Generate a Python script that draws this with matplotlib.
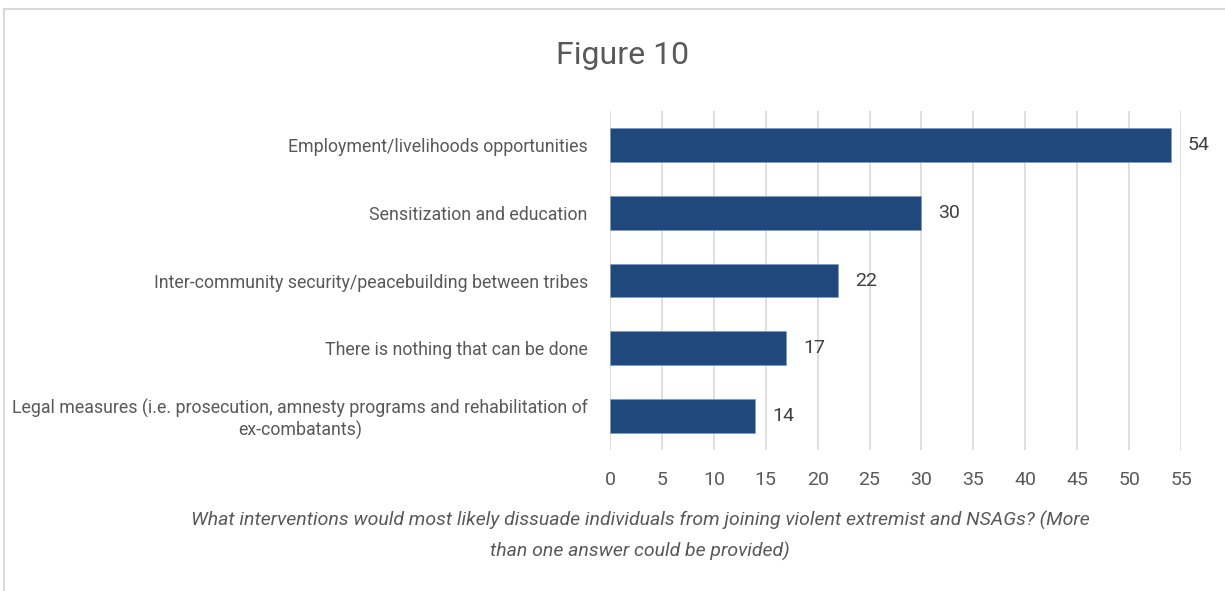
import matplotlib
matplotlib.use("Agg")
import matplotlib.pyplot as plt

# survey answers, top to bottom
categories = [
    "Employment/livelihoods opportunities",
    "Sensitization and education",
    "Inter-community security/peacebuilding between tribes",
    "There is nothing that can be done",
    "Legal measures (i.e. prosecution, amnesty programs and rehabilitation of\nex-combatants)",
]
counts = [54, 30, 22, 17, 14]
xticks = list(range(0, 60, 5))

title = "Figure 10"
caption = ("What interventions would most likely dissuade individuals from joining violent extremist and NSAGs? (More\n"
           "than one answer could be provided)")

plt.rcParams["font.family"] = ["Roboto", "DejaVu Sans"]

bar_color = "#1F497D"
text_color = "#595959"

fig = plt.figure(figsize=(12.25, 5.91), dpi=100)
ax = fig.add_axes([610 / 1225, 1 - 450 / 591, (1181 - 610) / 1225, 339 / 591])

y = list(range(len(categories)))[::-1]
ax.barh(y, counts, height=0.5, color=bar_color, edgecolor="#7F9CC4", linewidth=0.6, zorder=3)
for yi, v in zip(y, counts):
    ax.text(v + 1.6, yi, str(v), va="center", ha="left", fontsize=14, color="#404040")

ax.set_xlim(0, 55)
ax.set_ylim(-0.5, len(categories) - 0.5)
ax.set_xticks(xticks)
ax.set_xticklabels([str(t) for t in xticks], fontsize=14, color=text_color)
ax.set_yticks(y)
ax.set_yticklabels(categories, fontsize=12.8, color=text_color, multialignment="center")
ax.tick_params(axis="both", length=0)
ax.tick_params(axis="y", pad=16)
ax.tick_params(axis="x", pad=15)
ax.grid(axis="x", color="#D9D9D9", linewidth=1.2, zorder=0)
for s in ax.spines.values():
    s.set_visible(False)

fig.text(623 / 1225, 1 - 55 / 591, title, ha="center", va="center", fontsize=23, color=text_color)
fig.text(640 / 1225, 1 - 536 / 591, caption, ha="center", va="center", fontsize=14,
         style="italic", color=text_color, linespacing=1.75)

# light frame around the chart
frame = plt.Rectangle((4 / 1225, -0.05), 1.1, 1 - 9 / 591 + 0.05, transform=fig.transFigure,
                      fill=False, edgecolor="#D9D9D9", linewidth=1.5)
fig.patches.append(frame)

fig.savefig("out.png", dpi=100)
